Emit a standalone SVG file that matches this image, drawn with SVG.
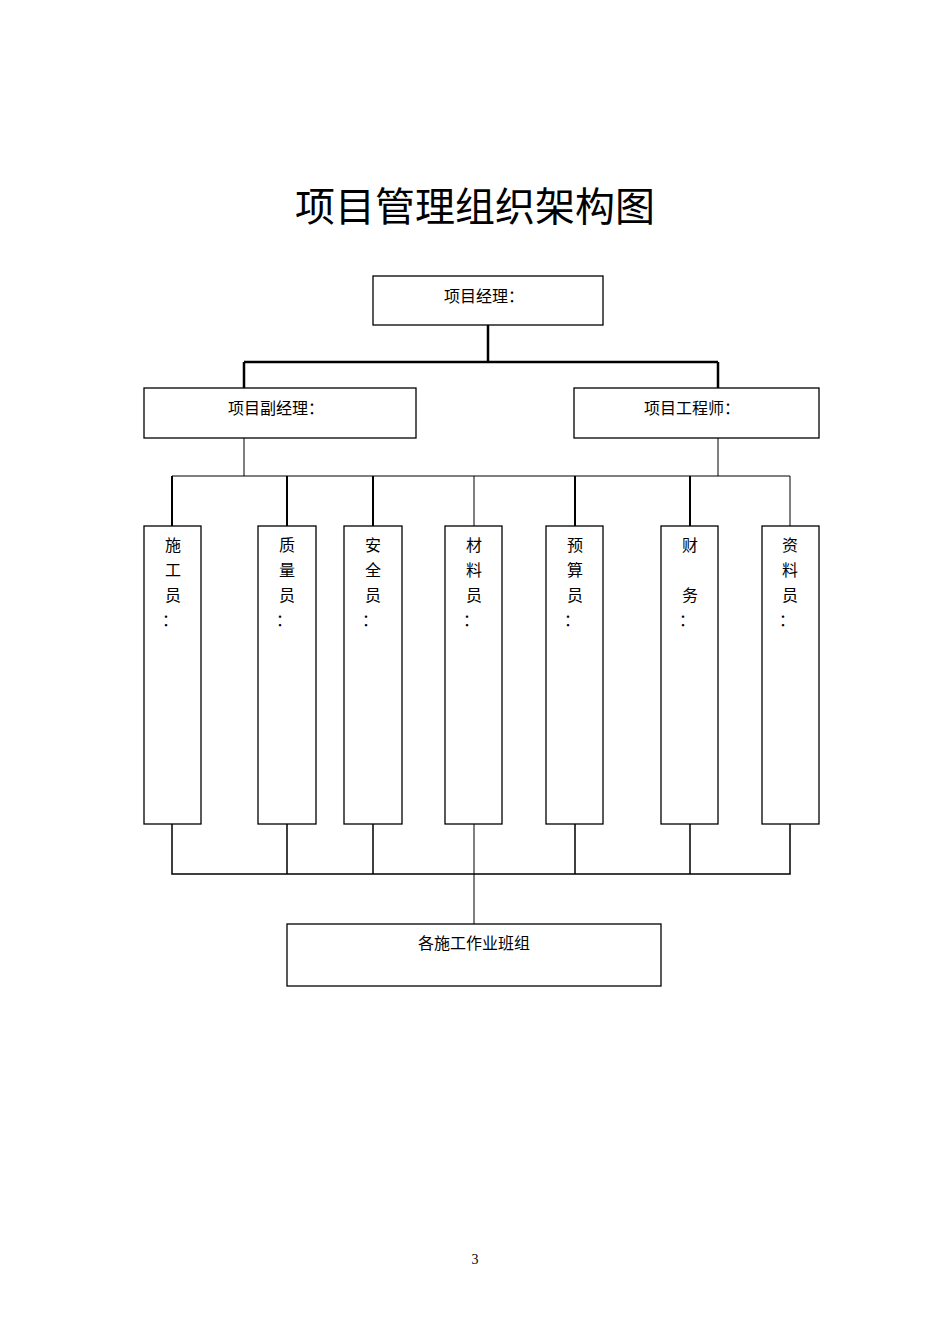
<svg xmlns="http://www.w3.org/2000/svg" width="950" height="1344" viewBox="0 0 950 1344">
<style>
text{font-family:"Liberation Serif","Noto Sans CJK SC",serif;fill:#000;text-anchor:middle}
.b{fill:#fff;stroke:#000;stroke-width:1.3}
.t{font-size:16px}
.c{stroke:#000;fill:none}
</style>
<rect width="950" height="1344" fill="#fff"/>
<text x="475" y="221" font-size="40">项目管理组织架构图</text>
<g class="c">
<path d="M488 325V362M244 362H718M244 362V388M718 362V388" stroke-width="2.5"/>
<path d="M244 438V476M718 438V476M172 476H790M474 476V526M790 476V526M474 824V924" stroke-width="1"/>
<path d="M172 476V526M287 476V526M373 476V526M575 476V526M690 476V526" stroke-width="2"/>
<path d="M172 824V874H790V824M287 824V874M373 824V874M575 824V874M690 824V874" stroke-width="1.5"/>
</g>
<g id="pm"><rect class="b" x="373" y="276" width="230" height="49" stroke-width="2"/><text class="t" x="484" y="302">项目经理：</text></g>
<g id="vpm"><rect class="b" x="144" y="388" width="272" height="50"/><text class="t" x="276" y="414">项目副经理：</text></g>
<g id="eng"><rect class="b" x="574" y="388" width="245" height="50"/><text class="t" x="692" y="414">项目工程师：</text></g>
<g id="n1"><rect class="b" x="144" y="526" width="57" height="298"/><text class="t" x="173" y="551">施</text><text class="t" x="173" y="576">工</text><text class="t" x="173" y="601">员</text><text class="t" x="170" y="626">：</text></g>
<g id="n2"><rect class="b" x="258" y="526" width="58" height="298"/><text class="t" x="287" y="551">质</text><text class="t" x="287" y="576">量</text><text class="t" x="287" y="601">员</text><text class="t" x="284" y="626">：</text></g>
<g id="n3"><rect class="b" x="344" y="526" width="58" height="298"/><text class="t" x="373" y="551">安</text><text class="t" x="373" y="576">全</text><text class="t" x="373" y="601">员</text><text class="t" x="370" y="626">：</text></g>
<g id="n4"><rect class="b" x="445" y="526" width="57" height="298"/><text class="t" x="474" y="551">材</text><text class="t" x="474" y="576">料</text><text class="t" x="474" y="601">员</text><text class="t" x="471" y="626">：</text></g>
<g id="n5"><rect class="b" x="546" y="526" width="57" height="298"/><text class="t" x="575" y="551">预</text><text class="t" x="575" y="576">算</text><text class="t" x="575" y="601">员</text><text class="t" x="572" y="626">：</text></g>
<g id="n6"><rect class="b" x="661" y="526" width="57" height="298"/><text class="t" x="690" y="551">财</text><text class="t" x="690" y="601">务</text><text class="t" x="687" y="626">：</text></g>
<g id="n7"><rect class="b" x="762" y="526" width="57" height="298"/><text class="t" x="790" y="551">资</text><text class="t" x="790" y="576">料</text><text class="t" x="790" y="601">员</text><text class="t" x="787" y="626">：</text></g>
<g id="team"><rect class="b" x="287" y="924" width="374" height="62" stroke-width="2"/><text class="t" x="474" y="949">各施工作业班组</text></g>
<text x="475" y="1264" font-size="14">3</text>
</svg>
